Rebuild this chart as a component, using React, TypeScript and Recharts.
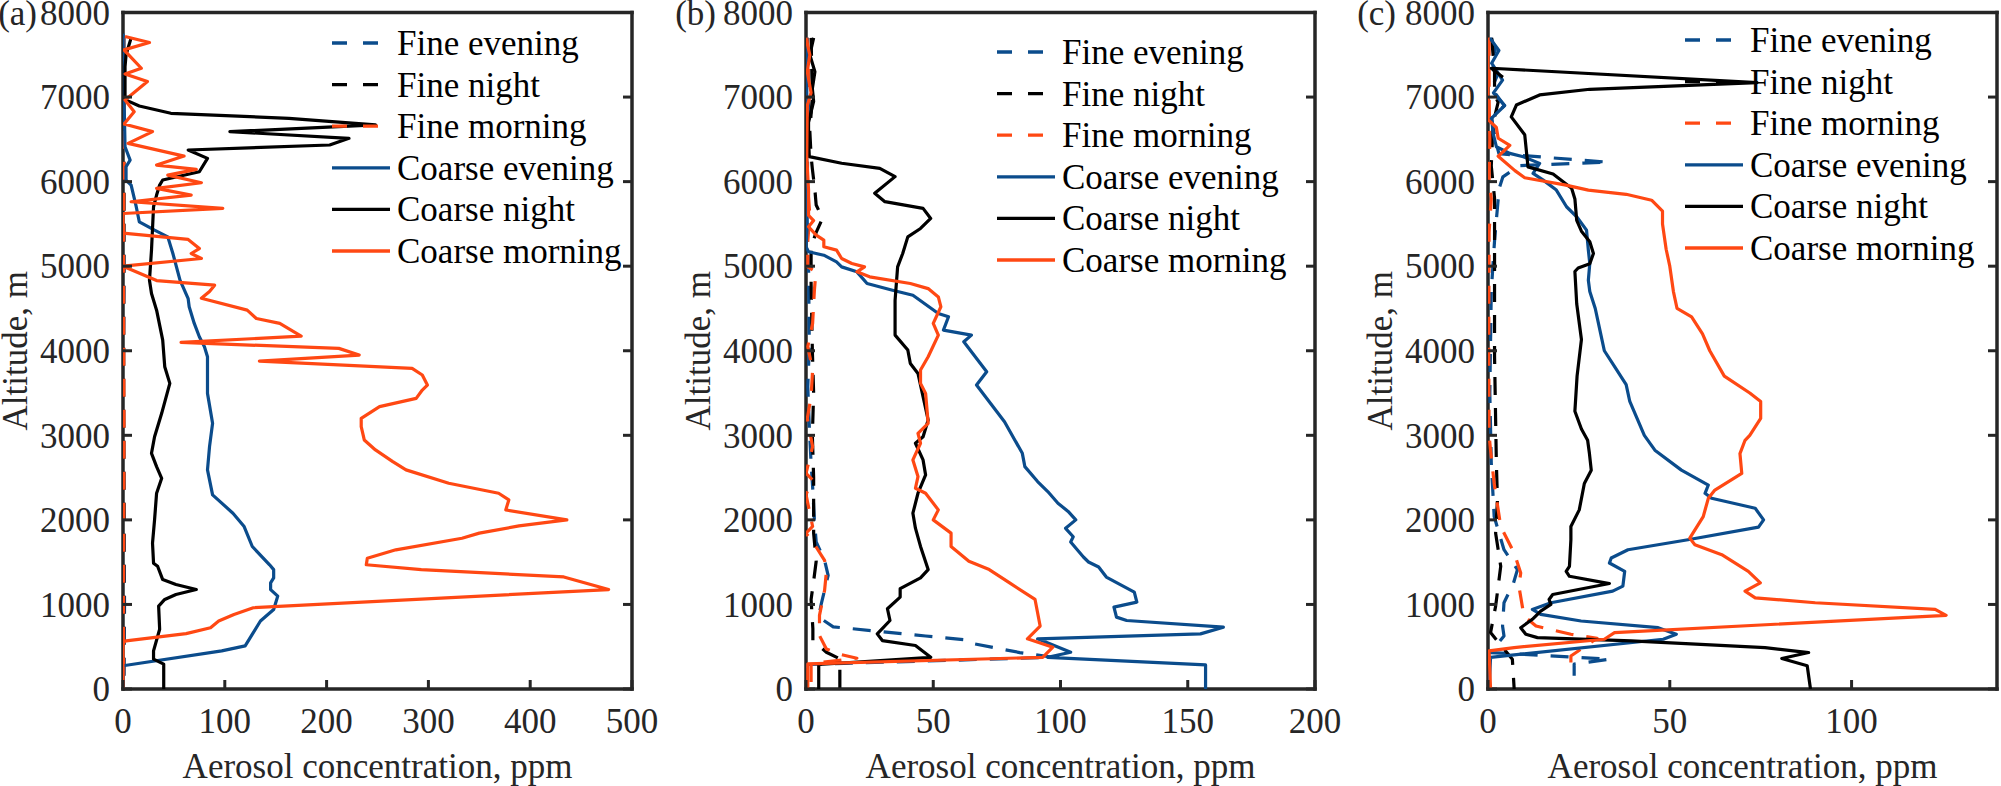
import React from 'react';
import { ScatterChart, Scatter, XAxis, YAxis, Legend } from 'recharts';

// each point: [aerosol concentration (ppm), altitude (m)], listed from top to bottom
type Pt = [number, number];

// ---- panel (a)
const aFineEvening: Pt[] = [[1, 7700], [0.5, 6500], [1, 5000], [0.5, 3500], [1, 2000], [1.5, 1000], [1, 0]];
const aFineNight: Pt[] = [[0.5, 7700], [1, 6000], [0.5, 4000], [1, 2000], [0.5, 0]];
const aFineMorning: Pt[] = [[0.5, 7700], [1, 6600], [0.5, 5000], [1, 3000], [0.5, 1000], [0.5, 0]];
const aCoarseEvening: Pt[] = [
  [0, 7750], [1, 7000], [2, 6413], [7, 6255], [3, 6176], [3, 6019], [8, 5959], [13, 5703], [16, 5525],
  [31, 5426], [44, 5347], [49, 5150], [56, 4835], [64, 4617], [65, 4520], [70, 4323], [75, 4165], [80, 4047],
  [83, 3929], [83, 3496], [88, 3142], [85, 2866], [83, 2591], [88, 2295], [108, 2079], [119, 1921], [127, 1685],
  [144, 1469], [148, 1412], [148, 1314], [145, 1255], [145, 1176], [152, 1098], [148, 941], [135, 804],
  [128, 667], [120, 510], [97, 451], [0, 275], [0, 0],
];
const aCoarseNight: Pt[] = [
  [8, 7700], [3, 7500], [2, 7360], [2, 6970], [16, 6895], [47, 6808], [163, 6749], [248, 6670], [105, 6591],
  [222, 6512], [203, 6433], [64, 6374], [83, 6275], [75, 6117], [39, 6019], [36, 5959], [33, 5841], [30, 5703],
  [28, 5190], [26, 4835], [28, 4677], [33, 4480], [39, 4126], [41, 3811], [46, 3614], [38, 3260], [31, 2984],
  [28, 2787], [33, 2630], [38, 2492], [33, 2315], [31, 2000], [29, 1724], [30, 1488], [34, 1451], [39, 1294],
  [52, 1235], [72, 1176], [52, 1118], [41, 1059], [35, 980], [36, 706], [30, 451], [30, 353], [40, 294], [40, 0],
];
const aCoarseMorning: Pt[] = [
  [2, 7716], [26, 7645], [1, 7558], [18, 7341], [2, 7274], [24, 7183], [2, 6966], [11, 6827], [1, 6681],
  [29, 6591], [5, 6452], [60, 6302], [33, 6196], [72, 6145], [44, 6077], [77, 5987], [33, 5920], [67, 5841],
  [8, 5762], [98, 5683], [0, 5623], [0, 5390], [64, 5316], [75, 5209], [67, 5150], [77, 5091], [0, 5000],
  [33, 4830], [90, 4775], [85, 4700], [77, 4620], [122, 4480], [131, 4382], [154, 4323], [175, 4173],
  [57, 4098], [212, 4028], [232, 3949], [134, 3878], [284, 3791], [294, 3713], [299, 3594], [294, 3535],
  [288, 3437], [252, 3339], [234, 3201], [234, 3102], [237, 2945], [248, 2827], [265, 2689], [278, 2591],
  [320, 2433], [369, 2315], [379, 2236], [376, 2118], [436, 2000], [389, 1929], [350, 1843], [333, 1783],
  [268, 1646], [240, 1547], [239, 1469], [293, 1412], [433, 1325], [477, 1176], [128, 961], [109, 882],
  [94, 804], [86, 725], [62, 655], [3, 569], [0, 549], [0, 0],
];

// ---- panel (b)
const bFineEvening: Pt[] = [
  [0.5, 7700], [1, 7000], [0.5, 6000], [0.3, 5500], [1, 5000], [1.3, 4048], [0.7, 3575], [1.3, 3102],
  [2, 2669], [2.6, 2394], [3.3, 2000], [4, 1739], [7.3, 1522], [8.7, 1344], [6, 1008], [5, 850], [10.7, 735],
  [47, 627], [63, 580], [65, 540], [84, 431], [97, 375], [0.5, 290], [0.5, 0],
];
const bFineNight: Pt[] = [
  [2, 7700], [2.5, 7000], [1.5, 6600], [2, 6300], [2.5, 6150], [3.5, 5900], [4, 5723], [6.5, 5565], [4, 5400],
  [2, 5229], [2, 4795], [2.5, 4000], [3, 3500], [2.5, 3000], [3, 2500], [3, 2000], [3, 1843], [4, 1510],
  [3, 1275], [2, 1059], [2.7, 711], [2.7, 573], [8, 435], [13.3, 356], [13.3, 0],
];
const bFineMorning: Pt[] = [
  [0.5, 7700], [1, 7400], [0.5, 7000], [0.3, 6500], [0.5, 6000], [1.5, 5600], [0.7, 5300], [0.7, 4992],
  [3.9, 4933], [3.3, 4716], [2.6, 4323], [0.7, 4048], [2.6, 3772], [2, 3456], [0.5, 3200], [2.6, 2866],
  [0, 2551], [2.6, 2472], [0, 2300], [2.6, 1922], [0, 1843], [3, 1725], [7.3, 1522], [8, 1383], [7.3, 1166],
  [5.3, 870], [5.3, 632], [8, 474], [13, 412], [20, 364], [2, 300], [2, 0],
];
const bCoarseEvening: Pt[] = [
  [0.3, 7700], [0.3, 7000], [0.3, 6000], [0.5, 5500], [0, 5229], [1, 5170], [7, 5130], [12, 5051], [14, 4992],
  [20, 4933], [24, 4795], [34, 4716], [42, 4657], [52, 4441], [56, 4402], [54, 4244], [65, 4185], [62, 4106],
  [71, 3752], [67, 3594], [78, 3161], [85, 2787], [86, 2630], [91, 2453], [95, 2335], [99, 2197], [103, 2100],
  [106, 2000], [102, 1900], [105, 1800], [104, 1739], [109, 1561], [111, 1502], [115, 1443], [118, 1324],
  [129, 1146], [130, 1028], [121, 968], [122, 850], [126, 810], [164, 731], [155, 652], [91, 593], [104, 435],
  [95, 375], [157, 285], [157, 0],
];
const bCoarseNight: Pt[] = [
  [3, 7700], [1.5, 7500], [3.5, 7300], [2.5, 7100], [3, 6950], [1, 6700], [1, 6500], [1.3, 6295], [14, 6217],
  [29, 6157], [35, 6059], [27, 5862], [31, 5763], [46, 5684], [49, 5565], [45, 5446], [40, 5347], [38, 5150],
  [36, 4992], [35, 4597], [35, 4185], [40, 4008], [41, 3850], [44, 3732], [46, 3456], [48, 3181], [46, 2984],
  [43, 2906], [46, 2709], [47, 2531], [44, 2315], [42, 2079], [43, 1902], [45, 1686], [48, 1412], [45, 1314],
  [37, 1186], [37, 1087], [32, 949], [33, 810], [28, 652], [30, 573], [43, 514], [49, 375], [5, 290], [5, 0],
];
const bCoarseMorning: Pt[] = [
  [0, 7700], [1.5, 7500], [0.5, 7300], [2, 7050], [0.5, 6900], [0.3, 6300], [1, 5900], [1, 5600], [3, 5540],
  [1, 5466], [4, 5368], [7, 5308], [7, 5229], [12, 5190], [14, 5091], [18, 5032], [23, 4992], [20, 4933],
  [25, 4874], [41, 4795], [48, 4735], [52, 4636], [53, 4520], [50, 4323], [52, 4185], [48, 3929], [45, 3772],
  [45, 3614], [47, 3496], [48, 3142], [44, 3024], [45, 2906], [42, 2709], [44, 2512], [43, 2374], [47, 2315],
  [52, 2118], [50, 2000], [57, 1843], [57, 1686], [64, 1510], [72, 1412], [80, 1255], [90, 1059], [92, 745],
  [87, 593], [97, 494], [93, 375], [0.7, 296], [0.7, 0],
];

// ---- panel (c)
const cFineEvening: Pt[] = [
  [0.9, 7700], [2, 7550], [0.5, 7400], [2.5, 7250], [1, 7100], [4.5, 6900], [1, 6750], [2, 6500], [3, 6330],
  [33, 6230], [8.7, 6190], [4.1, 6057], [3.2, 5938], [2.8, 5790], [1.8, 5300], [0.9, 4707], [0.5, 3500],
  [0.9, 2673], [1.7, 2039], [4.4, 1647], [8.1, 1412], [7, 1250], [4.4, 1020], [4, 745], [4.4, 627], [0.7, 431],
  [33.4, 353], [23.7, 294], [23.7, 157],
];
const cFineNight: Pt[] = [
  [1, 7700], [1.8, 7300], [1.8, 7020], [2.8, 6940], [1.4, 6690], [0.9, 6185], [1.8, 5805], [1.8, 5130],
  [1.8, 3940], [2.3, 2673], [2.6, 2235], [2.1, 1843], [3.5, 1451], [2.1, 980], [0.7, 667], [6.7, 353], [7.2, 0],
];
const cFineMorning: Pt[] = [
  [0.3, 7700], [0.3, 7000], [0.5, 6500], [0.3, 6000], [0.9, 5800], [0.3, 5400], [0.2, 4000], [0.3, 3000],
  [0.7, 2824], [1.7, 2431], [3.5, 1922], [7.2, 1608], [9, 1373], [8.5, 1216], [9.9, 863], [13.2, 745],
  [22.8, 647], [30, 600], [22.8, 390], [22.8, 196],
];
const cCoarseEvening: Pt[] = [
  [0.5, 7700], [3, 7550], [1, 7400], [4, 7200], [1.5, 7050], [4.6, 6900], [1, 6750], [1.4, 6571], [2.3, 6413],
  [6, 6334], [9.7, 6295], [14.2, 6216], [12.4, 6097], [15.2, 6018], [18.8, 5900], [21.6, 5703], [24.4, 5584],
  [27.1, 5426], [27.6, 5190], [28, 5032], [27.6, 4834], [28, 4700], [29.5, 4500], [31, 4200], [32, 4000],
  [35, 3800], [38, 3600], [39, 3400], [41, 3200], [43, 3000], [45.9, 2824], [53.2, 2588], [60.6, 2412],
  [59.7, 2314], [61.5, 2255], [73.5, 2137], [75.8, 2000], [74.4, 1914], [55, 1765], [38.5, 1647], [33.9, 1549],
  [33.4, 1490], [37.6, 1392], [37.1, 1216], [34.3, 1157], [17.3, 1020], [12.2, 941], [14.5, 882], [25.6, 804],
  [46.8, 725], [51.8, 647], [48.2, 588], [0.7, 373], [0.3, 0],
];
const cCoarseNight: Pt[] = [
  [4.1, 7234], [0.9, 7341], [74, 7170], [28, 7092], [14.2, 7025], [7.8, 6906], [6.4, 6766], [10.1, 6555],
  [11, 6174], [17.9, 6090], [23, 5922], [23.9, 5795], [24.4, 5541], [25.7, 5414], [28, 5290], [29, 5150],
  [28, 5030], [24.8, 4979], [23.9, 4937], [24.4, 4556], [25.7, 4133], [24.5, 3700], [23.9, 3285], [25.7, 3074],
  [27.4, 2941], [27.9, 2784], [28.4, 2588], [26.5, 2431], [25.1, 2118], [22.8, 1922], [22.8, 1765], [22.4, 1451],
  [21.5, 1392], [22.4, 1333], [33.4, 1247], [17.8, 1118], [16.8, 1059], [17.3, 1000], [14.5, 922], [12.2, 824],
  [9, 725], [10.4, 647], [13.6, 608], [39.4, 569], [76.2, 490], [88.2, 431], [80.8, 361], [87.8, 275], [88.7, 0],
];
const cCoarseMorning: Pt[] = [
  [0, 7700], [0, 6733], [2.3, 6640], [2.8, 6513], [6, 6428], [2.8, 6300], [7.4, 6130], [10.1, 6046],
  [21.1, 5962], [27.6, 5900], [38, 5850], [45, 5780], [48, 5650], [48, 5500], [49, 5200], [50, 5000], [51, 4700],
  [52, 4500], [56, 4400], [59, 4200], [61, 4000], [65, 3700], [72, 3500], [75, 3400], [75, 3200], [72, 3000],
  [70.7, 2941], [69.3, 2784], [69.8, 2549], [62.4, 2353], [60.6, 2255], [59.2, 2039], [55.5, 1784], [56.9, 1706],
  [64.3, 1588], [71.6, 1392], [74.9, 1255], [70.7, 1157], [73.5, 1078], [90, 1020], [123, 941], [126, 871],
  [34.8, 667], [32, 588], [7.2, 490], [0.3, 451], [0.7, 0],
];

const altTicks = [0, 1000, 2000, 3000, 4000, 5000, 6000, 7000, 8000];
const aTicks = [0, 100, 200, 300, 400, 500];
const bTicks = [0, 50, 100, 150, 200];
const cTicks = [0, 50, 100];

const seriesNames = ['Fine evening', 'Fine night', 'Fine morning', 'Coarse evening', 'Coarse night', 'Coarse morning'];

const BLUE = '#0b4c8c';
const ORANGE = '#ff4813';
const AXIS = '#262626';
const FONT = '"Liberation Serif", "Times New Roman", Times, serif';
const seriesColors = [BLUE, '#000000', ORANGE, BLUE, '#000000', ORANGE];
const seriesDashed = [true, true, true, false, false, false];

const panels = [
  {
    letter: '(a)', left: 0, width: 683, letterX: 37, xMax: 500, xTicks: aTicks, legendX: 332, legendY: 22.7,
    series: [aFineEvening, aFineNight, aFineMorning, aCoarseEvening, aCoarseNight, aCoarseMorning],
  },
  {
    letter: '(b)', left: 683, width: 682, letterX: 716, xMax: 200, xTicks: bTicks, legendX: 314, legendY: 31.7,
    series: [bFineEvening, bFineNight, bFineMorning, bCoarseEvening, bCoarseNight, bCoarseMorning],
  },
  {
    letter: '(c)', left: 1365, width: 636, letterX: 1396, xMax: 140, xTicks: cTicks, legendX: 320, legendY: 20,
    series: [cFineEvening, cFineNight, cFineMorning, cCoarseEvening, cCoarseNight, cCoarseMorning],
  },
];

const Y_AXIS_W = 123;
const PLOT_W = 509;
const CHART_H = 786;
const TOP = 12.5;
const X_AXIS_H = 97;
const ROW = 41.6;

const textStyle = { fontFamily: FONT, fontSize: 35, fill: AXIS, style: { fontFamily: FONT } };

const BottomTick = (p: any) => (
  <g>
    <line x1={p.x} y1={p.y} x2={p.x} y2={p.y - 9} stroke={AXIS} strokeWidth={3} />
    <text x={p.x} y={p.y + 44} textAnchor="middle" {...textStyle}>{p.payload.value}</text>
  </g>
);
const TopTick = (p: any) => <line x1={p.x} y1={p.y} x2={p.x} y2={p.y + 9} stroke={AXIS} strokeWidth={3} />;
const LeftTick = (p: any) => (
  <g>
    <line x1={p.x} y1={p.y} x2={p.x + 9} y2={p.y} stroke={AXIS} strokeWidth={3} />
    <text x={p.x - 13} y={p.y} dy="0.35em" textAnchor="end" {...textStyle}>{p.payload.value}</text>
  </g>
);
const RightTick = (p: any) => <line x1={p.x} y1={p.y} x2={p.x - 9} y2={p.y} stroke={AXIS} strokeWidth={3} />;

const LegendBox = () => (
  <svg width={300} height={6 * ROW + 20} style={{ overflow: 'visible' }}>
    {seriesNames.map((name, i) => {
      const cy = 20 + i * ROW;
      return (
        <g key={name}>
          <line
            x1={0} x2={58} y1={cy} y2={cy}
            stroke={seriesColors[i]} strokeWidth={3.3}
            strokeDasharray={seriesDashed[i] ? '15 16' : undefined}
          />
          <text x={65} y={cy + 12} fontFamily={FONT} fontSize={35} fill="#000" style={{ fontFamily: FONT }}>
            {name}
          </text>
        </g>
      );
    })}
  </svg>
);

const hidden = () => <g />;

const axisLine = { stroke: AXIS, strokeWidth: 3.5, strokeLinecap: 'square' as const };

const Panel = ({ panel }: { panel: (typeof panels)[number] }) => (
  <div style={{ position: 'absolute', left: panel.left, top: 0 }}>
    <ScatterChart
      width={panel.width}
      height={CHART_H}
      margin={{ top: TOP - 1, right: panel.width - Y_AXIS_W - PLOT_W - 1, bottom: 0, left: 0 }}
    >
      <XAxis
        type="number" dataKey="c" domain={[0, panel.xMax]} ticks={panel.xTicks} allowDataOverflow
        interval={0} height={X_AXIS_H} tickLine={false} tickSize={0} tickMargin={0}
        tick={(p: any) => <BottomTick {...p} />} axisLine={axisLine}
      />
      <XAxis
        xAxisId="t" orientation="top" type="number" domain={[0, panel.xMax]} ticks={panel.xTicks}
        allowDataOverflow interval={0} height={1} tickLine={false} tickSize={0} tickMargin={0}
        tick={(p: any) => <TopTick {...p} />} axisLine={axisLine}
      />
      <YAxis
        type="number" dataKey="a" domain={[0, 8000]} ticks={altTicks} allowDataOverflow interval={0}
        width={Y_AXIS_W} tickLine={false} tickSize={0} tickMargin={0}
        tick={(p: any) => <LeftTick {...p} />} axisLine={axisLine}
      />
      <YAxis
        yAxisId="r" orientation="right" type="number" domain={[0, 8000]} ticks={altTicks} allowDataOverflow
        interval={0} width={1} tickLine={false} tickSize={0} tickMargin={0}
        tick={(p: any) => <RightTick {...p} />} axisLine={axisLine}
      />
      {panel.series.map((pts, i) => (
        <Scatter
          key={seriesNames[i]}
          name={seriesNames[i]}
          data={pts.map(([c, a]) => ({ c, a }))}
          fill={seriesColors[i]}
          shape={hidden}
          line={{
            stroke: seriesColors[i],
            strokeWidth: 3.2,
            strokeLinejoin: 'round',
            strokeDasharray: seriesDashed[i] ? '18 13' : undefined,
          }}
          isAnimationActive={false}
        />
      ))}
      <Legend
        layout="vertical" align="center" verticalAlign="middle"
        content={() => <LegendBox />}
        wrapperStyle={{ position: 'absolute', left: panel.legendX, top: panel.legendY, width: 300 }}
      />
    </ScatterChart>
  </div>
);

export default function App() {
  return (
    <div style={{ position: 'relative', width: 2001, height: 786, background: '#fff', overflow: 'hidden' }}>
      <style>{'body{margin:0}'}</style>
      {panels.map((p) => (
        <Panel key={p.letter} panel={p} />
      ))}
      <svg width={2001} height={786} style={{ position: 'absolute', left: 0, top: 0, pointerEvents: 'none' }}>
        {panels.map((p) => {
          const plotLeft = p.left + Y_AXIS_W;
          return (
            <g key={p.letter} {...textStyle}>
              <text x={p.letterX} y={TOP} dy="0.35em" textAnchor="end">{p.letter}</text>
              <text x={plotLeft + PLOT_W / 2} y={778} textAnchor="middle">Aerosol concentration, ppm</text>
              <text
                x={plotLeft - 96} y={TOP + 676.5 / 2} textAnchor="middle"
                transform={`rotate(-90 ${plotLeft - 96} ${TOP + 676.5 / 2})`}
              >
                Altitude, m
              </text>
            </g>
          );
        })}
      </svg>
    </div>
  );
}
